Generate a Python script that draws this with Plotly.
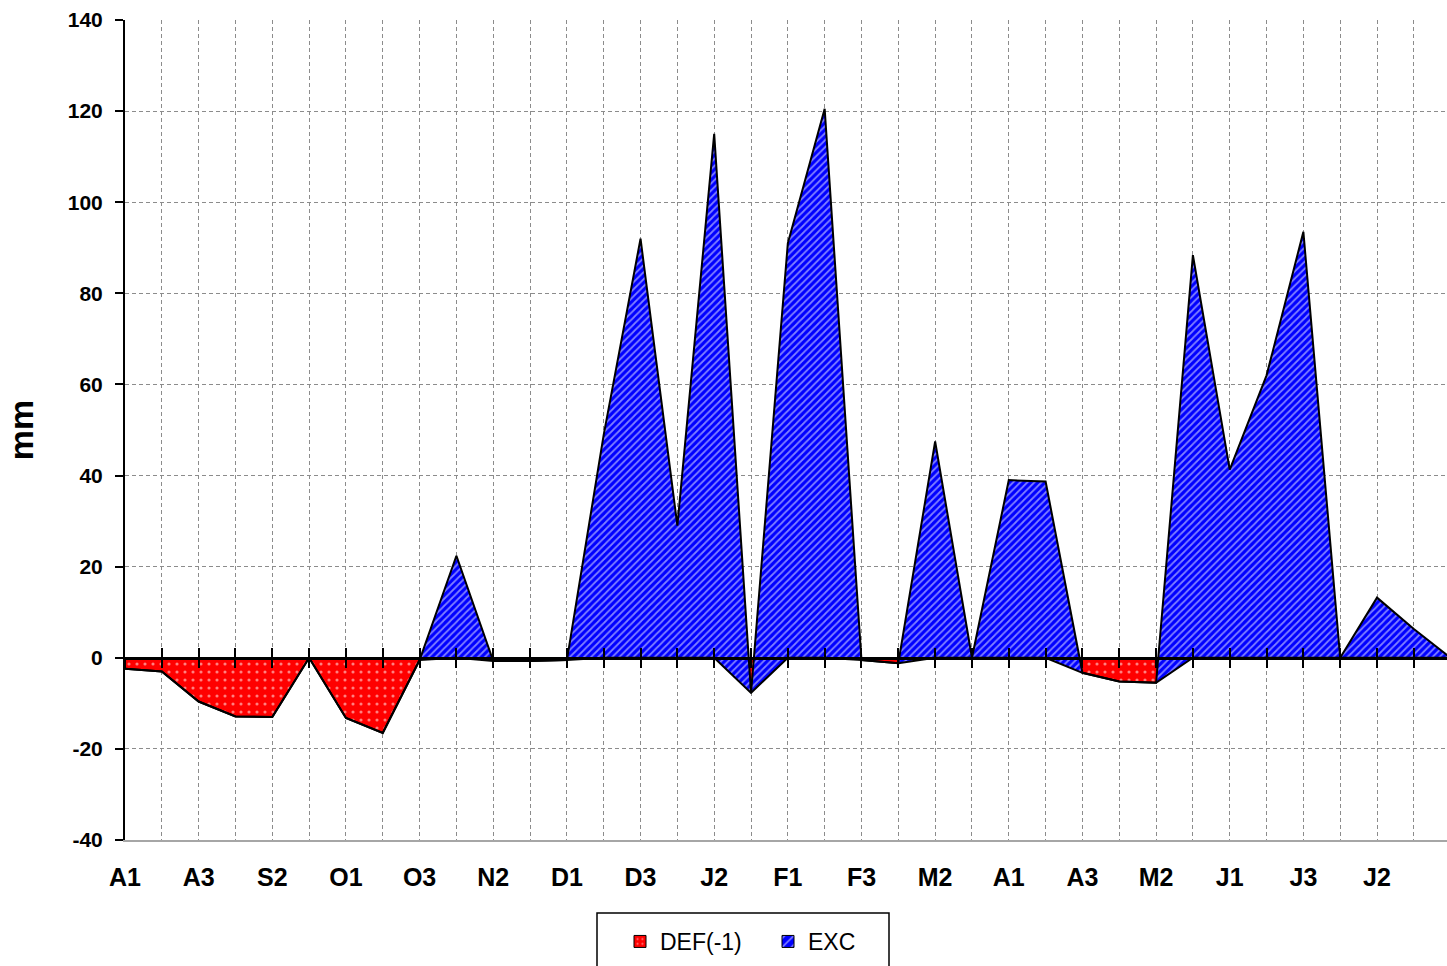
import plotly.graph_objects as go

# ---- data ----
categories = ["A1", "A2", "A3", "S1", "S2", "S3", "O1", "O2", "O3", "N1", "N2", "N3",
              "D1", "D2", "D3", "J1", "J2", "J3", "F1", "F2", "F3", "M1", "M2", "M3",
              "A1", "A2", "A3", "M1", "M2", "M3", "J1", "J2", "J3", "J1", "J2", "J3", "A1"]
def_vals = [-2.4, -3.0, -9.6, -12.9, -13.0, 0.0, -13.2, -16.5, -0.5, 0.0, -0.7, -0.7,
            -0.5, 0.0, 0.0, 0.0, 0.0, -7.7, 0.0, 0.0, -0.5, -1.2, 0.0, 0.0,
            0.0, 0.0, -3.3, -5.2, -5.5, 0.0, 0.0, 0.0, 0.0, 0.0, 0.0, 0.0, 0.0]
exc_vals = [0.0, 0.0, 0.0, 0.0, 0.0, 0.0, 0.0, 0.0, 0.0, 22.4, 0.0, 0.0,
            0.0, 49.0, 92.0, 29.0, 115.0, 0.0, 91.0, 120.5, 0.0, 0.0, 47.5, 0.0,
            39.0, 38.7, 0.0, 0.0, 0.0, 88.4, 41.3, 62.0, 93.5, 0.0, 13.2, 6.3, 0.0]
y_ticks = [-40, -20, 0, 20, 40, 60, 80, 100, 120, 140]

x_idx = list(range(len(categories)))
tick_text = [c if i % 2 == 0 else "" for i, c in enumerate(categories)]
y_tick_text = [str(v) for v in y_ticks]

FONT = "Liberation Sans, Arial, sans-serif"
GRID = "#8c8c8c"
X_RANGE = [0, 35.9]

# plot area geometry (pixels)
L, R, T, B = 125, 0, 20, 126
W, H = 1447, 966
PW, PH = W - L - R, H - T - B

def px_x(p):
    return (p - L) / PW

def px_y(p):
    return (H - B - p) / PH

red_pat = dict(shape=".", bgcolor="#ff0000", fgcolor="white", size=8, solidity=0.12)
blue_pat = dict(shape="/", bgcolor="#0000ff", fgcolor="white", size=5, solidity=0.35)

fig = go.Figure()
fig.add_trace(go.Scatter(
    x=x_idx, y=def_vals, name="DEF(-1)", stackgroup="one", mode="lines",
    line=dict(color="black", width=2), fillcolor="#ff0000", fillpattern=red_pat,
    showlegend=False, hoverinfo="skip"))
fig.add_trace(go.Scatter(
    x=x_idx, y=exc_vals, name="EXC", stackgroup="one", mode="lines",
    line=dict(color="black", width=2), fillcolor="#0000ff", fillpattern=blue_pat,
    showlegend=False, hoverinfo="skip"))

# legend-only entries (small square swatches like the original)
fig.add_trace(go.Bar(x=[None], y=[None], name="DEF(-1)",
                     marker=dict(color="#ff0000", line=dict(color="black", width=1),
                                 pattern=dict(shape=".", bgcolor="#ff0000", fgcolor="white",
                                              size=6, solidity=0.15))))
fig.add_trace(go.Bar(x=[None], y=[None], name="EXC",
                     marker=dict(color="#0000ff", line=dict(color="black", width=1),
                                 pattern=dict(shape="/", bgcolor="#0000ff", fgcolor="white",
                                              size=8, solidity=0.25))))

# empty traces so the overlay axes at y = 0 get drawn
for ax in ("x2", "x3"):
    fig.add_trace(go.Scatter(x=[None], y=[None], xaxis=ax, yaxis="y",
                             mode="lines", showlegend=False, hoverinfo="skip"))

zero_pos = (0 - y_ticks[0]) / (y_ticks[-1] - y_ticks[0])

fig.update_layout(
    width=W, height=H,
    margin=dict(l=L, r=R, t=T, b=B, autoexpand=False),
    paper_bgcolor="white", plot_bgcolor="white",
    font=dict(family=FONT, color="black"),
    xaxis=dict(
        range=X_RANGE, tickmode="array", tickvals=x_idx, ticktext=tick_text,
        showgrid=True, gridcolor=GRID, gridwidth=1, griddash="4px,3px",
        ticks="", showline=True, linecolor="#a6a6a6", linewidth=2,
        zeroline=False, ticklabelstandoff=14, automargin=False,
        tickfont=dict(family=FONT, size=25, color="black", weight="bold"),
    ),
    xaxis2=dict(
        overlaying="x", anchor="free", position=zero_pos, range=X_RANGE,
        tickmode="array", tickvals=x_idx, showticklabels=False,
        ticks="inside", ticklen=9, tickwidth=2, tickcolor="black",
        showgrid=False, zeroline=False, showline=True, linecolor="black", linewidth=3,
        layer="above traces", automargin=False,
    ),
    xaxis3=dict(
        overlaying="x", anchor="free", position=zero_pos, range=X_RANGE,
        tickmode="array", tickvals=x_idx, showticklabels=False,
        ticks="outside", ticklen=9, tickwidth=2, tickcolor="black",
        showgrid=False, zeroline=False, showline=False,
        layer="above traces", automargin=False,
    ),
    yaxis=dict(
        range=[y_ticks[0], y_ticks[-1]], tickmode="array", tickvals=y_ticks,
        ticktext=y_tick_text,
        showgrid=True, gridcolor=GRID, gridwidth=1, griddash="4px,3px",
        zeroline=False, showline=True, linecolor="black", linewidth=2,
        ticks="outside", ticklen=8, tickwidth=2, tickcolor="black",
        ticklabelstandoff=8, automargin=False,
        tickfont=dict(family=FONT, size=21, color="black", weight="bold"),
        title=dict(text="mm", standoff=24,
                   font=dict(family=FONT, size=34, color="black", weight="bold")),
    ),
    showlegend=True,
    legend=dict(
        orientation="h", x=px_x(620), y=px_y(920), xanchor="left", yanchor="top",
        font=dict(family=FONT, size=23, color="black"),
        bgcolor="rgba(0,0,0,0)", borderwidth=0, traceorder="normal",
        entrywidth=103, entrywidthmode="pixels",
    ),
    shapes=[dict(type="rect", xref="paper", yref="paper",
                 x0=px_x(597), x1=px_x(889), y0=px_y(985), y1=px_y(913),
                 line=dict(color="black", width=1.5), fillcolor="rgba(0,0,0,0)",
                 layer="above")],
)

fig.write_html(
    "out.html",
    config={"displayModeBar": False},
    post_script="document.body.style.margin='0px';document.body.style.overflow='hidden';",
)
